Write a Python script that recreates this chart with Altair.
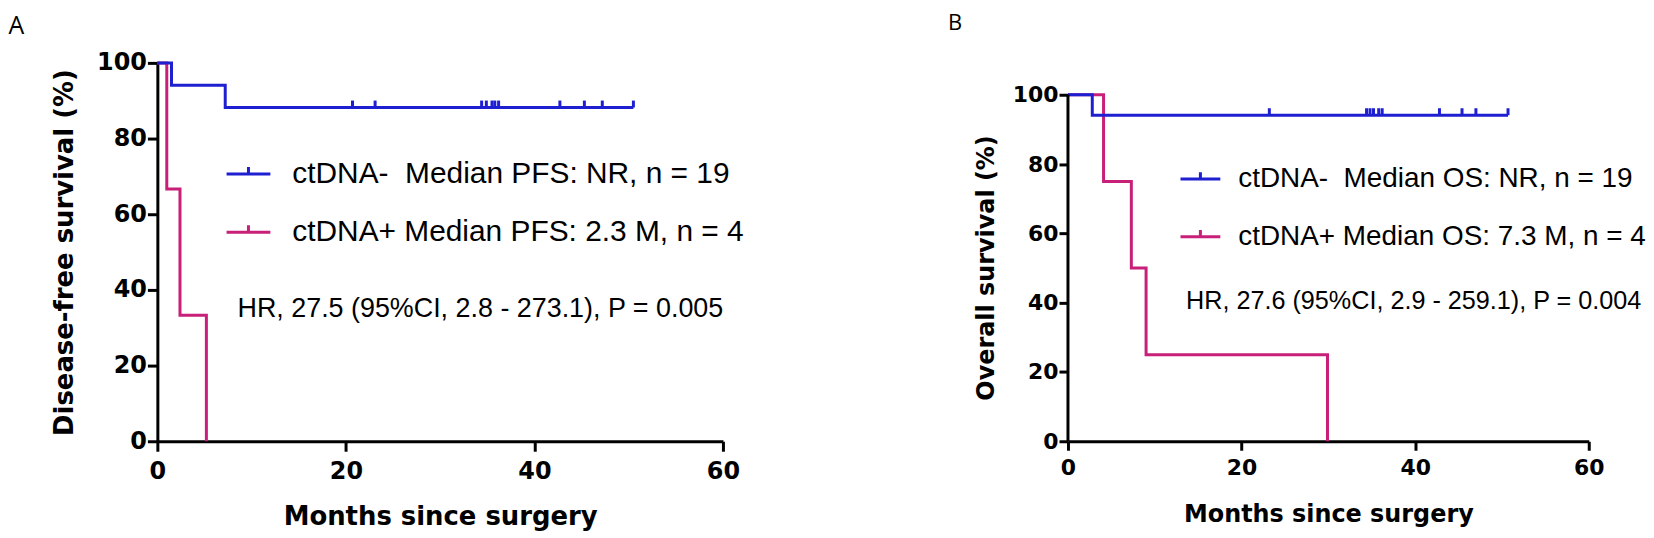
import altair as alt
import pandas as pd

BLUE = "#1f1fd2"
PINK = "#c81f78"

# ---------------- Panel A : disease-free survival ----------------
a_neg_label = "ctDNA-\u00a0 Median PFS: NR, n = 19"
a_pos_label = "ctDNA+ Median PFS: 2.3 M, n = 4"
a_neg_time = [0, 1.5, 7.2, 50.5]
a_neg_surv = [100, 94.1, 88.2, 88.2]
a_neg_censor = [20.7, 23.1, 34.4, 34.9, 35.5, 35.8, 36.2, 42.7, 45.3, 47.2, 50.5]
a_pos_time = [0, 1.0, 2.4, 5.2]
a_pos_surv = [100, 66.7, 33.3, 0]
a_hr = "HR, 27.5 (95%CI, 2.8 - 273.1), P = 0.005"

# ---------------- Panel B : overall survival ----------------
b_neg_label = "ctDNA-\u00a0 Median OS: NR, n = 19"
b_pos_label = "ctDNA+ Median OS: 7.3 M, n = 4"
b_neg_time = [0, 2.8, 50.7]
b_neg_surv = [100, 94.1, 94.1]
b_neg_censor = [23.2, 34.4, 34.8, 35.2, 35.8, 36.2, 42.8, 45.4, 47.0, 50.7]
b_pos_time = [0, 4.1, 7.3, 9.0, 29.9]
b_pos_surv = [100, 75, 50, 25, 0]
b_hr = "HR, 27.6 (95%CI, 2.9 - 259.1), P = 0.004"

x_ticks = [0, 20, 40, 60]
y_ticks = [0, 20, 40, 60, 80, 100]


def level_at(t, times, survs):
    lvl = survs[0]
    for ti, si in zip(times, survs):
        if ti <= t:
            lvl = si
    return lvl


def panel(letter, ytitle, neg_label, pos_label, neg_t, neg_s, censor, pos_t, pos_s,
          hr_text, g):
    curves = pd.DataFrame({
        "t": neg_t + pos_t,
        "s": neg_s + pos_s,
        "g": [neg_label] * len(neg_t) + [pos_label] * len(pos_t),
        "k": ["neg"] * len(neg_t) + ["pos"] * len(pos_t),
    })
    cens = pd.DataFrame({
        "t": censor,
        "s": [level_at(c, neg_t, neg_s) for c in censor],
        "g": [neg_label] * len(censor),
    })

    x = alt.X("t:Q", scale=alt.Scale(domain=[0, 60], nice=False),
              axis=alt.Axis(values=x_ticks, title="Months since surgery", grid=False,
                            domainColor="black", domainWidth=3, tickColor="black",
                            tickWidth=3, tickSize=g["tick"], labelFont="DejaVu Sans",
                            labelFontWeight="bold", labelFontSize=g["lab"], labelColor="black",
                            labelPadding=g["xlp"], labelFlush=False, labelOverlap=False,
                            titleFont="DejaVu Sans", titleFontWeight="bold",
                            titleFontSize=g["tit"], titleColor="black",
                            titlePadding=g["xtp"]))
    y = alt.Y("s:Q", scale=alt.Scale(domain=[0, g["ytop"]], nice=False),
              axis=alt.Axis(values=y_ticks, title=ytitle, grid=False,
                            domain=g["ydomain"], domainColor="black", domainWidth=3,
                            tickColor="black", tickWidth=3, tickSize=g["tick"],
                            labelFont="DejaVu Sans", labelFontWeight="bold",
                            labelFontSize=g["lab"], labelColor="black", labelPadding=1,
                            labelFlush=False, labelOverlap=False,
                            titleFont="DejaVu Sans", titleFontWeight="bold",
                            titleFontSize=g["tit"], titleColor="black",
                            titleX=g["tx"], titleY=g["ty"]))
    color = alt.Color(
        "g:N",
        scale=alt.Scale(domain=[neg_label, pos_label], range=[BLUE, PINK]),
        legend=alt.Legend(orient="none", legendX=g["lx"], legendY=g["ly"], title=None,
                          symbolType=g["sym"], symbolSize=g["ssize"],
                          symbolStrokeWidth=3, labelFont="Liberation Sans",
                          labelFontSize=g["lfs"], labelColor="black",
                          labelOffset=g["loff"], rowPadding=g["rowpad"], padding=0,
                          labelLimit=0),
    )

    base = alt.Chart(curves).encode(x=x, y=y, color=color)
    pos_line = base.transform_filter("datum.k == 'pos'").mark_line(
        interpolate="step-after", strokeWidth=3)
    neg_line = base.transform_filter("datum.k == 'neg'").mark_line(
        interpolate="step-after", strokeWidth=3)
    ticks = alt.Chart(cens).mark_point(
        shape="M0,0L0,-1", size=196, strokeWidth=3, filled=False, opacity=1
    ).encode(x=x, y=y, color=color)
    hr = alt.Chart(pd.DataFrame({"txt": [hr_text]})).mark_text(
        align="left", baseline="middle", font="Liberation Sans",
        fontSize=g["hfs"], color="black"
    ).encode(x=alt.datum(g["hx"]), y=alt.datum(g["hy"]), text="txt:N")

    layers = [pos_line, neg_line, ticks, hr]
    if not g["ydomain"]:
        yline = alt.Chart(pd.DataFrame({"z": [0]})).mark_rule(
            color="black", strokeWidth=3
        ).encode(x=alt.datum(0), y=alt.datum(0), y2=alt.datum(100))
        layers.append(yline)

    return alt.layer(*layers).properties(
        width=g["w"], height=380,
        title=alt.TitleParams(text=letter, anchor="start", frame="group", dx=g["dx"],
                              offset=g["toff"], baseline="alphabetic", font="Open Sans",
                              fontSize=g["lfont"], fontWeight="normal", color="black"),
    )


geoA = dict(w=568, ytop=100, ydomain=True, tick=10, lab=24, tit=26, xlp=8.5, xtp=20,
            tx=-80, ty=190, lx=68, ly=88, sym="M-1,0L1,0M0,0L0,-0.32", ssize=1936,
            lfs=30, loff=20.5, rowpad=19.5, hfs=27, hx=8.5, hy=35, dx=-149.5, toff=-8,
            lfont=25)
geoB = dict(w=523, ytop=109.2, ydomain=False, tick=9, lab=22, tit=24, xlp=7.6, xtp=24,
            tx=-70, ty=205.5, lx=111.5, ly=95, sym="M-1,0L1,0M0,0L0,-0.33", ssize=1600,
            lfs=28, loff=16.5, rowpad=22, hfs=25.3, hx=13.6, hy=40.5, dx=-120.5, toff=11,
            lfont=22)

chartA = panel("A", "Disease-free survival (%)", a_neg_label, a_pos_label, a_neg_time,
               a_neg_surv, a_neg_censor, a_pos_time, a_pos_surv, a_hr, geoA)
chartB = panel("B", "Overall survival (%)", b_neg_label, b_pos_label, b_neg_time,
               b_neg_surv, b_neg_censor, b_pos_time, b_pos_surv, b_hr, geoB)

chart = alt.hconcat(chartA, chartB, spacing=346.5, bounds="flush").resolve_scale(
    color="independent", x="independent", y="independent"
).resolve_legend(color="independent").configure_view(stroke=None).properties(
    padding={"top": 3, "left": 0, "right": 0, "bottom": 0}, background="white"
)

chart.save("out.html", embed_options={"renderer": "svg", "actions": False})
